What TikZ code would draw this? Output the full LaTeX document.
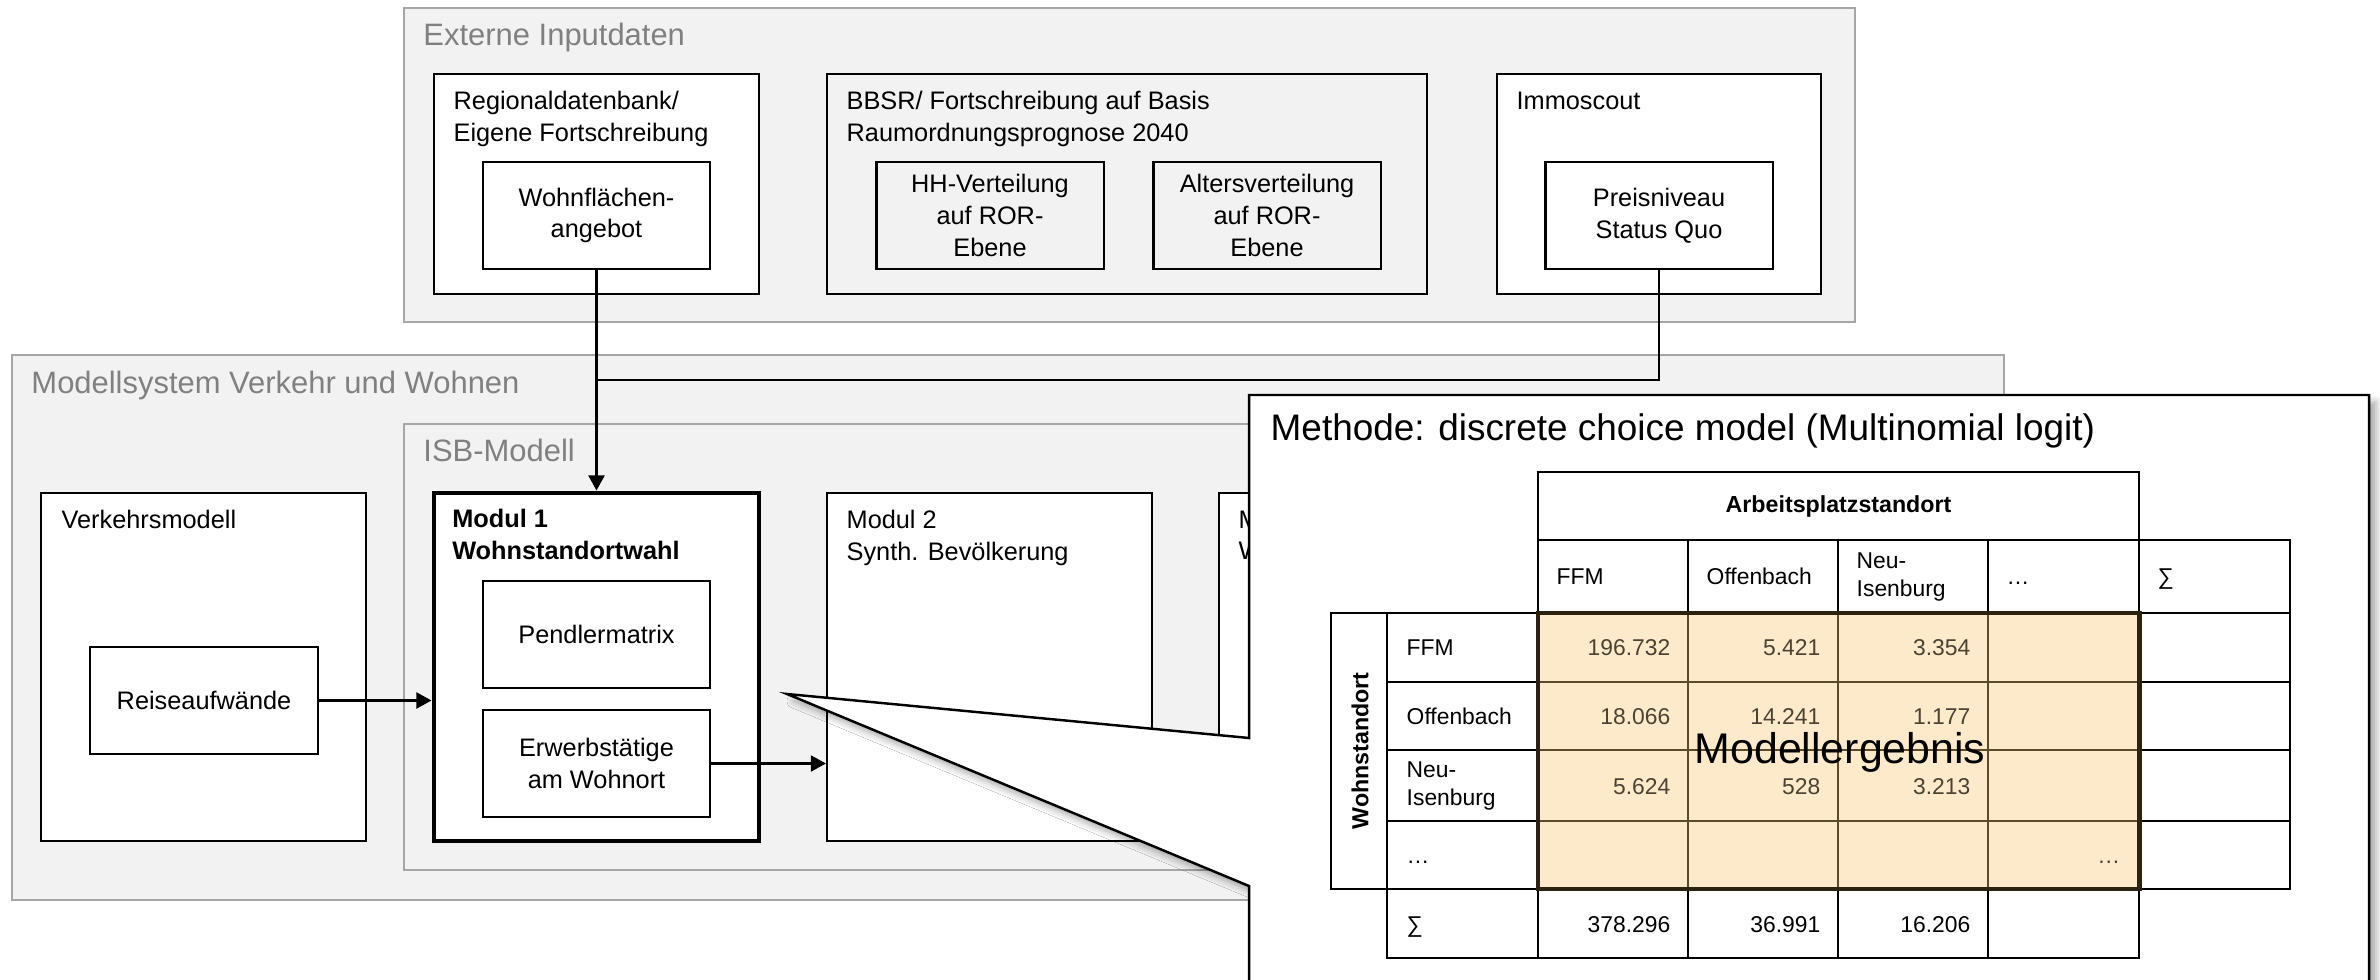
\documentclass[tikz,border=0pt]{standalone}
\usepackage{fontspec}
\setmainfont{Liberation Sans}
\usetikzlibrary{arrows.meta,fit,shadows.blur}

\definecolor{panelfill}{HTML}{F2F2F2}
\definecolor{panelline}{HTML}{A6A6A6}
\definecolor{paneltext}{HTML}{808080}
\definecolor{resfill}{HTML}{FDEACB}
\definecolor{resline}{HTML}{5C4A28}
\definecolor{resedge}{HTML}{2B220F}
\definecolor{restext}{HTML}{4B4232}

\tikzset{
	panel/.style={draw=panelline, fill=panelfill, line width=0.7pt, inner sep=0pt},
	paneltitle/.style={anchor=base west, inner sep=0pt, text=paneltext, font=\fontsize{8.8}{10.5}\selectfont},
	box/.style={draw, fill=white, line width=0.6pt, inner sep=0pt, align=center, font=\fontsize{7.2}{9}\selectfont},
	greybox/.style={box, fill=panelfill},
	smallbox/.style={box, minimum width=2.27cm, minimum height=1.07cm},
	boxtitle/.style={anchor=north west, inner sep=0pt, align=left, font=\fontsize{7.2}{9}\selectfont},
	link/.style={line width=0.8pt, -{Triangle[length=4.3pt, width=4.5pt]}},
	callout/.style={draw, fill=white, line width=0.7pt, blur shadow={shadow xshift=2pt, shadow yshift=-2pt, shadow blur radius=2pt, shadow opacity=35}},
	tabtext/.style={inner sep=0pt, font=\fontsize{6.5}{7.8}\selectfont},
	reslabel/.style={tabtext, anchor=base west},
	resnum/.style={tabtext, anchor=base east, text=restext}
}

\begin{document}
\begin{tikzpicture}[x=0.01cm, y=-0.01cm]
			%%%%% START %%%%%
			\useasboundingbox (0, 0) rectangle (2380, 980);
			
			\node[panel, fit={(404, 8) (1855, 322)}] (extern) {};
			\node[paneltitle] (externtitle) at ([shift={(20, 39)}]extern.north west) {Externe Inputdaten};
			
			\node[box, fit={(434, 74) (759, 294)}] (regio) {};
			\node[boxtitle] (regiotitle) at ([shift={(20, 18)}]regio.north west) {Regionaldatenbank/\\Eigene Fortschreibung};
			\node[smallbox] (flaeche) at (596.5, 215.5) {Wohnflächen-\\angebot};
			
			\node[greybox, fit={(827, 74) (1427, 294)}] (bbsr) {};
			\node[boxtitle] (bbsrtitle) at ([shift={(20, 18)}]bbsr.north west) {BBSR/ Fortschreibung auf Basis\\Raumordnungsprognose 2040};
			\node[smallbox, fill=panelfill] (hhvert) at (990, 215.5) {HH-Verteilung\\auf ROR-\\Ebene};
			\node[smallbox, fill=panelfill] (altvert) at (1267, 215.5) {Altersverteilung\\auf ROR-\\Ebene};
			
			\node[box, fit={(1497, 74) (1821, 294)}] (immo) {};
			\node[boxtitle] (immotitle) at ([shift={(20, 18)}]immo.north west) {Immoscout};
			\node[smallbox] (preis) at (1659, 215.5) {Preisniveau\\Status Quo};
			
			\node[panel, fit={(12, 355) (2004, 900)}] (modsys) {};
			\node[paneltitle] (modsystitle) at ([shift={(20, 40)}]modsys.north west) {Modellsystem Verkehr und Wohnen};
			\node[panel, fit={(404, 424) (1985, 870)}] (isb) {};
			\node[paneltitle] (isbtitle) at ([shift={(20, 39)}]isb.north west) {ISB-Modell};
			
			\node[box, fit={(41, 493) (366, 841)}] (verkehr) {};
			\node[boxtitle] (verkehrtitle) at ([shift={(21, 18)}]verkehr.north west) {Verkehrsmodell};
			\node[smallbox] (reise) at (204, 700.5) {Reiseaufwände};
			
			\node[box, line width=1.4pt, fit={(434, 493) (759, 841)}] (modul1) {};
			\node[boxtitle, font=\fontsize{7.2}{9}\selectfont\bfseries] (modul1title) at ([shift={(20, 18)}]modul1.north west) {Modul 1\\Wohnstandortwahl};
			\node[smallbox] (pendler) at (596.5, 634.5) {Pendlermatrix};
			\node[smallbox] (erwerb) at (596.5, 763.5) {Erwerbstätige\\am Wohnort};
			
			\node[box, fit={(827, 493) (1152, 841)}] (modul2) {};
			\node[boxtitle] (modul2title) at ([shift={(20, 18)}]modul2.north west) {Modul 2\\Synth. Bevölkerung};
			\node[box, fit={(1219, 493) (1544, 841)}] (modul3) {};
			\node[boxtitle] (modul3title) at ([shift={(20, 18)}]modul3.north west) {M\\W};
			
			\coordinate (knick) at (596.5, 380);
			\draw[link] (flaeche.south) -- (modul1.north);
			\draw[line width=0.8pt] (preis.south) |- (knick);
			\draw[link] (reise.east) -- (reise.east -| modul1.west);
			\draw[link] (erwerb.east) -- (erwerb.east -| modul2.west);
			
			% callout with the result table
			\draw[callout] (1249, 395) -- (2369, 395) -- (2369, 1010) -- (1249, 1010) -- (1249, 886) -- (787, 694) -- (1249, 738) -- cycle;
			\node[anchor=base west, inner sep=0pt, font=\fontsize{10.5}{12}\selectfont] (methode) at (1270, 441) {Methode: discrete choice model (Multinomial logit)};
			
			\fill[resfill] (1538, 613) rectangle (2139, 889);
			\draw[resline, line width=0.5pt] (1688, 613) -- (1688, 889) (1838, 613) -- (1838, 889) (1988, 613) -- (1988, 889);
			\draw[resline, line width=0.5pt] (1538, 682) -- (2139, 682) (1538, 750) -- (2139, 750) (1538, 821) -- (2139, 821);
			
			\draw[line width=0.6pt] (1538, 472) rectangle (2139, 540);
			\draw[line width=0.6pt] (1538, 540) rectangle (2290, 613);
			\draw[line width=0.6pt] (1688, 540) -- (1688, 613) (1838, 540) -- (1838, 613) (1988, 540) -- (1988, 613) (2139, 540) -- (2139, 613);
			\draw[line width=0.6pt] (1331, 613) rectangle (1387, 889);
			\draw[line width=0.6pt] (1387, 613) rectangle (1538, 889);
			\draw[line width=0.6pt] (1387, 682) -- (1538, 682) (1387, 750) -- (1538, 750) (1387, 821) -- (1538, 821);
			\draw[line width=0.6pt] (2139, 613) rectangle (2290, 889);
			\draw[line width=0.6pt] (2139, 682) -- (2290, 682) (2139, 750) -- (2290, 750) (2139, 821) -- (2290, 821);
			\draw[line width=0.6pt] (1387, 889) rectangle (2139, 958);
			\draw[line width=0.6pt] (1538, 889) -- (1538, 958) (1688, 889) -- (1688, 958) (1838, 889) -- (1838, 958) (1988, 889) -- (1988, 958);
			\draw[resedge, line width=1.4pt] (1538, 613) rectangle (2139, 889);
			
			\node[tabtext, font=\fontsize{6.6}{8}\selectfont\bfseries] (arbeit) at (1838.5, 507) {Arbeitsplatzstandort};
			\node[tabtext, font=\fontsize{6.6}{8}\selectfont\bfseries, rotate=90] (wohnen) at (1360, 751) {Wohnstandort};
			
			\node[reslabel] (hffm) at (1556, 585) {FFM};
			\node[reslabel] (hoff) at (1706, 585) {Offenbach};
			\node[tabtext, anchor=west, align=left] (hneu) at (1856, 577) {Neu-\\Isenburg};
			\node[reslabel] (hdots) at (2006, 585) {…};
			\node[reslabel] (hsum) at (2157, 585) {∑};
			
			\node[reslabel] (rffm) at (1406, 656) {FFM};
			\node[reslabel] (roff) at (1406, 724) {Offenbach};
			\node[tabtext, anchor=west, align=left] (rneu) at (1406, 786) {Neu-\\Isenburg};
			\node[reslabel] (rdots) at (1406, 863) {…};
			\node[reslabel] (rsum) at (1406, 932) {∑};
			
			\node[resnum] (v11) at (1671, 656) {196.732};
			\node[resnum] (v12) at (1821, 656) {5.421};
			\node[resnum] (v13) at (1971, 656) {3.354};
			\node[resnum] (v21) at (1671, 724) {18.066};
			\node[resnum] (v22) at (1821, 724) {14.241};
			\node[resnum] (v23) at (1971, 724) {1.177};
			\node[resnum] (v31) at (1671, 794) {5.624};
			\node[resnum] (v32) at (1821, 794) {528};
			\node[resnum] (v33) at (1971, 794) {3.213};
			\node[resnum] (v44) at (2121, 863) {…};
			
			\node[tabtext, anchor=base east] (s1) at (1671, 932) {378.296};
			\node[tabtext, anchor=base east] (s2) at (1821, 932) {36.991};
			\node[tabtext, anchor=base east] (s3) at (1971, 932) {16.206};
			
			\node[inner sep=0pt, font=\fontsize{12.2}{14}\selectfont] (ergebnis) at (1840, 752) {Modellergebnis};
			
			%%%%% END %%%%%
\end{tikzpicture}
\end{document}
